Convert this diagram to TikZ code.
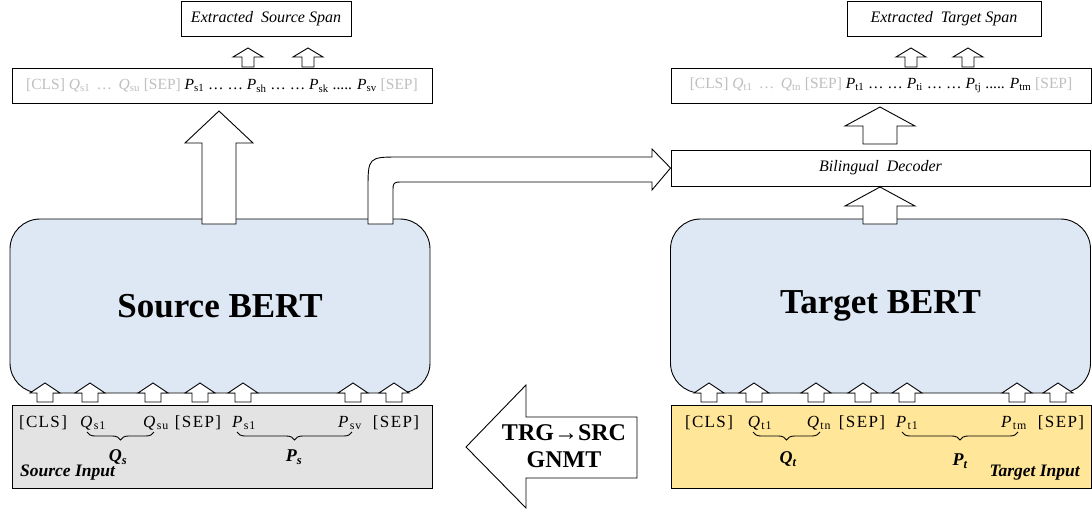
\documentclass[tikz,border=0pt]{standalone}
\usepackage{fontspec}
\setmainfont{Liberation Serif}
\newfontfamily\spacedfont[LetterSpace=8]{Liberation Serif}
\usetikzlibrary{decorations.pathreplacing}

\definecolor{bertblue}{HTML}{DEE8F4}
\definecolor{srcgray}{HTML}{E3E3E3}
\definecolor{trgyellow}{HTML}{FFE699}
\definecolor{fadetext}{HTML}{BFBFBF}

\newcommand{\sub}[1]{\textsubscript{#1}}
% hollow block arrow: centre x, tip y, head y, foot y, head half width, shaft half width
\newcommand{\fatarrow}[6]{%
  \draw[fatline] (#1,#2) -- (#1+#5,#3) -- (#1+#6,#3) -- (#1+#6,#4)
    -- (#1-#6,#4) -- (#1-#6,#3) -- (#1-#5,#3) -- cycle;}

\tikzset{
  fatline/.style={draw=black, fill=white, line width=0.9pt, line join=miter},
  spanbox/.style={draw=black, fill=white, line width=0.9pt, minimum height=35pt,
    font=\fontsize{16}{18}\selectfont\itshape},
  seqbox/.style={draw=black, fill=white, line width=0.9pt, minimum width=420pt,
    minimum height=35pt, font=\fontsize{15.5}{18}\selectfont},
  bertbox/.style={draw=black, fill=bertblue, line width=0.9pt, rounded corners=30pt,
    minimum width=420pt, minimum height=174pt, font=\fontsize{35}{40}\selectfont\bfseries},
  inputbox/.style={draw=black, line width=0.9pt, minimum width=420pt, minimum height=83pt},
  token/.style={font=\fontsize{17}{20}\spacedfont, inner sep=0pt},
  bracelabel/.style={font=\fontsize{18}{20}\selectfont\bfseries\itshape, inner sep=0pt},
  inputlabel/.style={font=\fontsize{17.5}{20}\selectfont\bfseries\itshape, inner sep=0pt},
  bracepath/.style={decorate, decoration={brace, mirror, amplitude=8pt}, line width=0.9pt},
}

\begin{document}
\begin{tikzpicture}[x=1pt, y=-1pt]
  \useasboundingbox (0,0) rectangle (1092,512);

  % source side
  \node[spanbox, minimum width=170pt] (srcspan) at (266,18.5) {Extracted\ \ Source Span};
  \node[seqbox] (srcseq) at (222,85.5) {\color{fadetext}[CLS] \textit{Q}\sub{s1} \,…\, \textit{Q}\sub{su} [SEP]
    \color{black}\textit{P}\sub{s1} … … \textit{P}\sub{sh} … … \textit{P}\sub{sk} ..... \textit{P}\sub{sv}
    \color{fadetext}[SEP]};
  \node[bertbox] (srcbert) at (220,306) {Source BERT};
  \node[inputbox, fill=srcgray] (srcinput) at (222,446.5) {};

  \foreach \ax/\tx/\tok in {45/43/{[CLS]}, 90/93/{\textit{Q}\sub{s1}}, 153/156/{\textit{Q}\sub{su}},
      200/198/{[SEP]}, 243/244/{\textit{P}\sub{s1}}, 353/350/{\textit{P}\sub{sv}}, 394/396/{[SEP]}} {
    \node[token] at (\tx,423) {\tok};
    \fatarrow{\ax}{383}{393}{402}{15}{8}
  }
  \draw[bracepath] (87,432) -- (154,432);
  \node[bracelabel] (qs) at (118,457) {Q\sub{s}};
  \draw[bracepath] (237,432) -- (352,432);
  \node[bracelabel] (ps) at (294,457) {P\sub{s}};
  \node[inputlabel, anchor=west] (srclabel) at (20,473) {Source Input};

  \fatarrow{248}{48}{57}{67}{15}{6}
  \fatarrow{308}{48}{57}{67}{15}{6}
  \fatarrow{219}{111}{143}{224}{34}{17}

  % target side
  \node[spanbox, minimum width=194pt] (trgspan) at (944,18.5) {Extracted\ \ Target Span};
  \node[seqbox] (trgseq) at (881,85.5) {\color{fadetext}[CLS] \textit{Q}\sub{t1} \,…\, \textit{Q}\sub{tn} [SEP]
    \color{black}\textit{P}\sub{t1} … … \textit{P}\sub{ti} … … \textit{P}\sub{tj} ..... \textit{P}\sub{tm}
    \color{fadetext}[SEP]};
  \node[spanbox, minimum width=419pt, minimum height=36pt] (decoder) at (880.5,168) {Bilingual\ \ Decoder};
  \node[bertbox] (trgbert) at (880.5,306) {Target BERT};
  \node[inputbox, fill=trgyellow] (trginput) at (881,446.5) {};

  \foreach \ax/\tx/\tok in {709/709/{[CLS]}, 754/760/{\textit{Q}\sub{t1}}, 816/819/{\textit{Q}\sub{tn}},
      863/862/{[SEP]}, 907/907/{\textit{P}\sub{t1}}, 1017/1014/{\textit{P}\sub{tm}}, 1058/1061/{[SEP]}} {
    \node[token] at (\tx,423) {\tok};
    \fatarrow{\ax}{383}{393}{402}{15}{8}
  }
  \draw[bracepath] (753,432) -- (820,432);
  \node[bracelabel] (qt) at (788,459) {Q\sub{t}};
  \draw[bracepath] (902,432) -- (1018,432);
  \node[bracelabel] (pt) at (960,461) {P\sub{t}};
  \node[inputlabel, anchor=east] (trglabel) at (1080,473) {Target Input};

  \fatarrow{911}{48}{57}{67}{15}{6}
  \fatarrow{968}{48}{57}{67}{15}{6}
  \fatarrow{880}{107}{126}{144}{35}{17}
  \fatarrow{880}{187}{206}{224}{35}{17}

  % source BERT to bilingual decoder
  \draw[fatline] (368,224) -- (368,190) .. controls (368,157) .. (400,157) -- (652,157)
    -- (652,149) -- (decoder.west) -- (652,190) -- (652,182) -- (403,182)
    .. controls (393,182) .. (393,192) -- (393,224) -- cycle;

  % back translation
  \draw[fatline] (466,447) -- (526,385) -- (526,417) -- (637,417) -- (637,478)
    -- (526,478) -- (526,508) -- cycle;
  \node[align=center, font=\fontsize{24}{27}\selectfont\bfseries] (gnmt) at (564,446) {TRG→SRC\\GNMT};
\end{tikzpicture}
\end{document}
